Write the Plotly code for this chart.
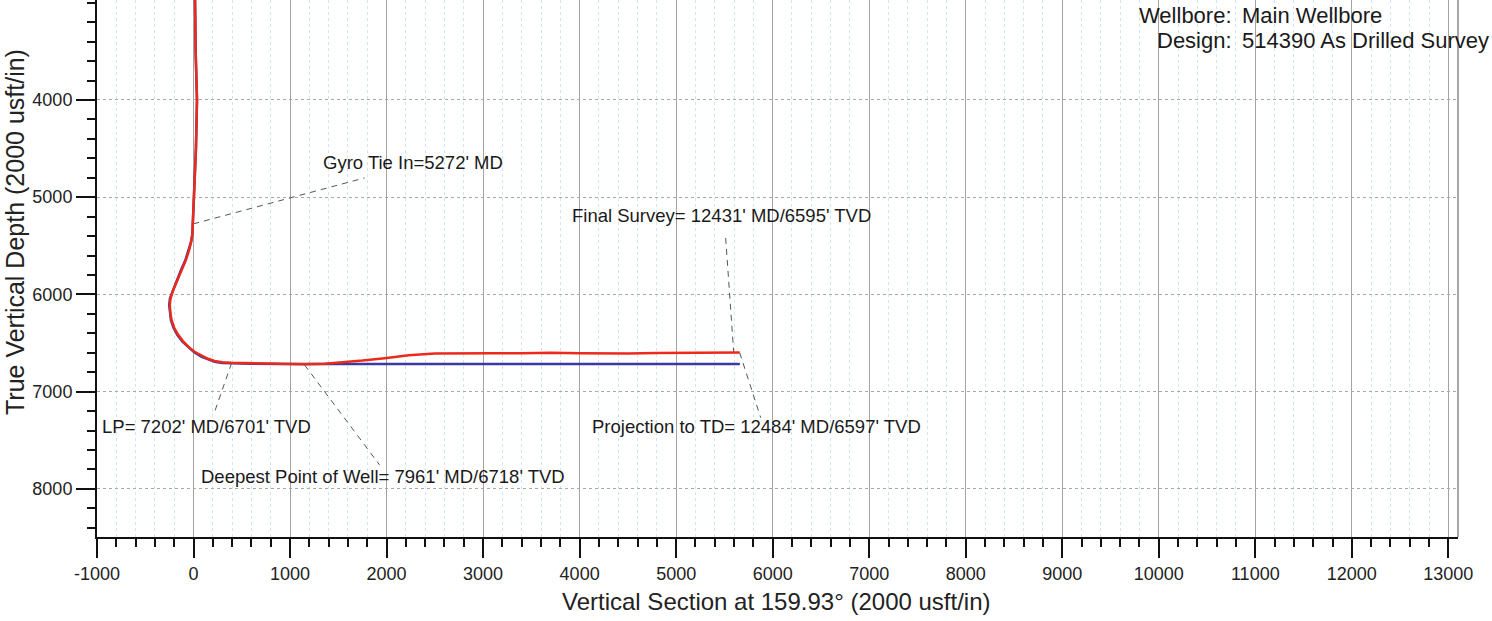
import plotly.graph_objects as go

# ---------------- data ----------------
# Actual (as drilled) survey: vertical section (usft) and TVD (usft)
act_vs = [0, 10, 22, 36, 25, 8, -3, -12, -25, -45, -80, -124, -170, -210, -238, -246,
          -240, -228, -200, -159, -110, -55, 10, 83, 150, 218, 300, 394, 600, 900,
          1150, 1360, 1550, 1750, 1980, 2230, 2500, 2800, 3100, 3400, 3710, 4000,
          4230, 4500, 4800, 5000, 5264, 5500, 5590, 5658]
act_tvd = [0, 2500, 3500, 4000, 4500, 5000, 5272, 5380, 5460, 5542, 5650, 5748, 5860,
           5954, 6040, 6108, 6190, 6262, 6345, 6416, 6480, 6537, 6590, 6632, 6662,
           6684, 6697, 6702, 6708, 6713, 6718, 6712, 6700, 6680, 6656, 6625, 6607,
           6603, 6605, 6606, 6600, 6606, 6610, 6607, 6603, 6601, 6598, 6596, 6595, 6597]

# Plan
plan_vs = [0, 10, 22, 36, 25, 8, -3, -12, -26, -48, -85, -130, -176, -216, -244, -252,
           -246, -234, -206, -165, -115, -58, 7, 80, 150, 218, 300, 394, 600, 900,
           1150, 1500, 2000, 3000, 4000, 5000, 5660]
plan_tvd = [0, 2500, 3500, 4000, 4500, 5000, 5272, 5380, 5460, 5542, 5650, 5748, 5860,
            5954, 6040, 6110, 6190, 6265, 6348, 6420, 6485, 6542, 6596, 6640, 6670,
            6692, 6705, 6710, 6713, 6715, 6716, 6716, 6716, 6716, 6716, 6716, 6716]

# Callouts: text, text anchor (vs, tvd), leader line (from vs,tvd -> to vs,tvd)
callout_text = ["Gyro Tie In=5272' MD",
                "Final Survey= 12431' MD/6595' TVD",
                "Projection to TD= 12484' MD/6597' TVD",
                "LP= 7202' MD/6701' TVD",
                "Deepest Point of Well= 7961' MD/6718' TVD"]
callout_text_vs = [1325, 3905, 4110, -965, 60]
callout_text_tvd = [4648, 5193, 7363, 7363, 7877]
leader_vs0 = [-3, 5513, 5658, 394, 1150]
leader_tvd0 = [5275, 5419, 6599, 6707, 6725]
leader_vs1 = [1772, 5596, 5876, 218, 1927]
leader_tvd1 = [4802, 6592, 7268, 7209, 7753]

x_tick_vals = list(range(-1000, 13001, 1000))
x_tick_text = [str(v) for v in x_tick_vals]
y_tick_vals = [4000, 5000, 6000, 7000, 8000]
y_tick_text = [str(v) for v in y_tick_vals]

x_title = "Vertical Section at 159.93° (2000 usft/in)"
y_title = "True Vertical Depth (2000 usft/in)"
info_labels = ["Wellbore:", "Design:"]
info_values = ["Main Wellbore", "514390 As Drilled Survey"]

# ---------------- figure ----------------
FONT = "Liberation Sans, Arial, sans-serif"
W, H = 1492, 621
ML, MR, MT, MB = 97, 34, 0, 84
PW, PH = W - ML - MR, H - MT - MB


def px_to_paper(px, py):
    return (px - ML) / PW, (H - MB - py) / PH


fig = go.Figure()

for i in range(len(callout_text)):
    fig.add_trace(go.Scatter(
        x=[leader_vs0[i], leader_vs1[i]], y=[leader_tvd0[i], leader_tvd1[i]],
        mode="lines", line=dict(color="#555555", width=1, dash="6px,5px"),
        hoverinfo="skip", showlegend=False))

fig.add_trace(go.Scatter(x=plan_vs, y=plan_tvd, mode="lines",
                         line=dict(color="#3b3b9e", width=2.5), name="Plan"))
fig.add_trace(go.Scatter(x=act_vs, y=act_tvd, mode="lines",
                         line=dict(color="#ec2a1c", width=2.5), name="Actual"))

for i, t in enumerate(callout_text):
    fig.add_annotation(x=callout_text_vs[i], y=callout_text_tvd[i], xref="x", yref="y",
                       text=t, showarrow=False, xanchor="left", yanchor="middle",
                       font=dict(family=FONT, size=18.5, color="#1a1a1a"))

# axis titles
ax_, ay_ = px_to_paper(776, 601)
fig.add_annotation(x=ax_, y=ay_, xref="paper", yref="paper", text=x_title,
                   showarrow=False, xanchor="center", yanchor="middle",
                   font=dict(family=FONT, size=24, color="#222222"))
bx_, by_ = px_to_paper(15, 232)
fig.add_annotation(x=bx_, y=by_, xref="paper", yref="paper", text=y_title,
                   showarrow=False, xanchor="center", yanchor="middle", textangle=-90,
                   font=dict(family=FONT, size=25, color="#222222"))

# well info (top right) - kept fully inside the page
for i, (lab, val) in enumerate(zip(info_labels, info_values)):
    cy = 15 + 25 * i
    lx, ly = px_to_paper(1234, cy)
    vx, _ = px_to_paper(1240, cy)
    fig.add_annotation(x=lx, y=ly, xref="paper", yref="paper", text=lab,
                       showarrow=False, xanchor="right", yanchor="middle",
                       font=dict(family=FONT, size=22, color="#1a1a1a"))
    fig.add_annotation(x=vx, y=ly, xref="paper", yref="paper", text=val,
                       showarrow=False, xanchor="left", yanchor="middle",
                       font=dict(family=FONT, size=22, color="#1a1a1a"))

# right frame line
fig.add_shape(type="line", xref="paper", yref="paper", x0=1, x1=1, y0=0, y1=1,
              line=dict(color="#8a8a8a", width=1.5))

fig.update_layout(
    width=W, height=H,
    margin=dict(l=ML, r=MR, t=MT, b=MB),
    plot_bgcolor="white", paper_bgcolor="white",
    showlegend=False,
    font=dict(family=FONT, color="#222222"),
    xaxis=dict(range=[-1000, 13100], tickmode="array", tickvals=x_tick_vals,
               ticktext=x_tick_text, ticks="outside", ticklen=19, tickwidth=2,
               tickcolor="#111111", showline=True, linecolor="#111111", linewidth=2,
               showgrid=True, gridcolor="#a3a3a3", gridwidth=1, zeroline=False,
               tickfont=dict(family=FONT, size=18, color="#222222"),
               minor=dict(tick0=0, dtick=200, ticks="outside", ticklen=8, tickwidth=1.5,
                          tickcolor="#111111", showgrid=True, gridcolor="#d0e6ec",
                          griddash="dot", gridwidth=1)),
    yaxis=dict(range=[8495, 2972], tickmode="array", tickvals=y_tick_vals,
               ticktext=y_tick_text, ticks="outside", ticklen=19, tickwidth=2,
               tickcolor="#111111", showline=True, linecolor="#111111", linewidth=2,
               showgrid=True, gridcolor="#a8a8a8", griddash="dot", gridwidth=1,
               zeroline=False,
               tickfont=dict(family=FONT, size=18, color="#222222"),
               minor=dict(tick0=0, dtick=200, ticks="outside", ticklen=8, tickwidth=1.5,
                          tickcolor="#111111", showgrid=False)),
)

fig.write_html("out.html", config={"displayModeBar": False},
               post_script="document.body.style.margin='0';")
